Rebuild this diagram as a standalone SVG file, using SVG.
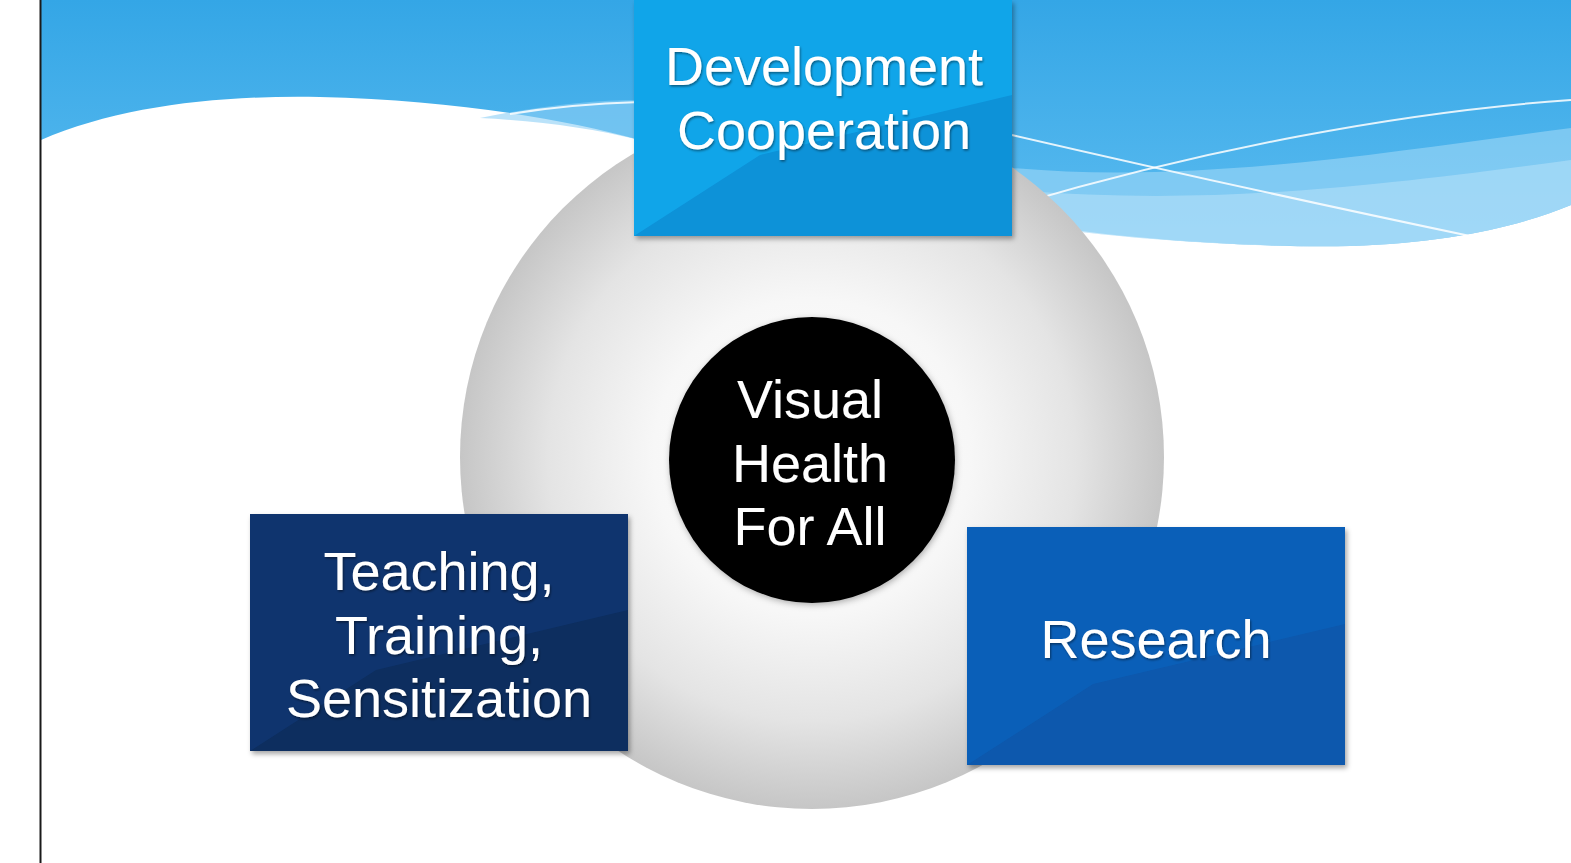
<svg xmlns="http://www.w3.org/2000/svg" width="1571" height="863" viewBox="0 0 1571 863">
<defs>
<linearGradient id="sky" x1="0" y1="0" x2="0" y2="1">
<stop offset="0" stop-color="#34a6e6"/>
<stop offset="1" stop-color="#5cbcf0"/>
</linearGradient>
<radialGradient id="sphere" cx="0.5" cy="0.5" r="0.5">
<stop offset="0" stop-color="#ffffff"/>
<stop offset="0.45" stop-color="#f7f7f7"/>
<stop offset="0.75" stop-color="#e4e4e4"/>
<stop offset="1" stop-color="#c6c6c6"/>
</radialGradient>
<filter id="shadow" x="-10%" y="-10%" width="125%" height="125%">
<feDropShadow dx="2" dy="3" stdDeviation="2.5" flood-color="#000" flood-opacity="0.35"/>
</filter>
<filter id="soft" x="-10%" y="-10%" width="120%" height="120%">
<feDropShadow dx="1" dy="2" stdDeviation="3" flood-color="#000" flood-opacity="0.3"/>
</filter>
<filter id="tshadow" x="-5%" y="-20%" width="110%" height="140%">
<feDropShadow dx="1" dy="1.5" stdDeviation="1" flood-color="#000" flood-opacity="0.45"/>
</filter>
</defs>
<style>
.lbl{font-family:"Liberation Sans",Arial,sans-serif;font-size:54px;fill:#ffffff;text-anchor:middle;filter:url(#tshadow)}
.gloss{fill:#ffffff;opacity:0.07}
.wl{fill:none;stroke:#ffffff;stroke-opacity:0.85;stroke-width:2}
</style>
<rect x="0" y="0" width="1571" height="863" fill="#ffffff"/>
<g id="background">
<path d="M41,140 C120,106 220,95 320,97 C450,100 560,118 640,140 L1012,220 C1100,238 1250,248 1350,246 C1450,243 1520,226 1571,205 V0 H41 Z" fill="url(#sky)"/>
<path d="M1012,168 C1200,185 1400,150 1571,128 V205 C1520,226 1450,243 1350,246 C1250,248 1100,238 1012,222 Z" fill="#a6daf8" opacity="0.55"/>
<path d="M1012,190 C1200,205 1350,190 1571,160 V205 C1520,226 1450,243 1350,246 C1250,248 1100,238 1012,222 Z" fill="#c4e7fb" opacity="0.45"/>
<path d="M480,118 C540,106 590,100 640,100 L640,140 C590,128 540,121 480,118 Z" fill="#8ccff5" opacity="0.6"/>
<path class="wl" d="M1012,135 Q1250,190 1470,236"/>
<path class="wl" d="M1012,206 C1200,150 1400,112 1571,100"/>
<path class="wl" d="M510,114 Q570,104 640,102"/>
<line x1="40.5" y1="0" x2="40.5" y2="863" stroke="#1a1a1a" stroke-width="2"/>
</g>
<g id="sphere-bg">
<circle cx="812" cy="457" r="352" fill="url(#sphere)"/>
</g>
<g id="connectors"></g>
<g id="node-center">
<circle cx="812" cy="460" r="143" fill="#000000" filter="url(#soft)"/>
<text class="lbl" x="810" y="418">Visual</text>
<text class="lbl" x="810" y="482">Health</text>
<text class="lbl" x="810" y="545">For All</text>
</g>
<g id="node-development">
<rect x="634" y="0" width="378" height="236" fill="#0b92d8" filter="url(#shadow)"/>
<polygon points="634,236 760,155 1012,95 1012,0 634,0" fill="#12a8ec" opacity="0.85"/>
<text class="lbl" x="824" y="85">Development</text>
<text class="lbl" x="824" y="149">Cooperation</text>
</g>
<g id="node-teaching">
<rect x="250" y="514" width="378" height="237" fill="#0b2d5f" filter="url(#shadow)"/>
<polygon points="250,751 376,670 628,610 628,514 250,514" fill="#0f3570" opacity="0.9"/>
<text class="lbl" x="439" y="590">Teaching,</text>
<text class="lbl" x="439" y="654">Training,</text>
<text class="lbl" x="439" y="717">Sensitization</text>
</g>
<g id="node-research">
<rect x="967" y="527" width="378" height="238" fill="#0a58ad" filter="url(#shadow)"/>
<polygon points="967,765 1093,684 1345,624 1345,527 967,527" fill="#0b60b8" opacity="0.95"/>
<text class="lbl" x="1156" y="658">Research</text>
</g>
</svg>
